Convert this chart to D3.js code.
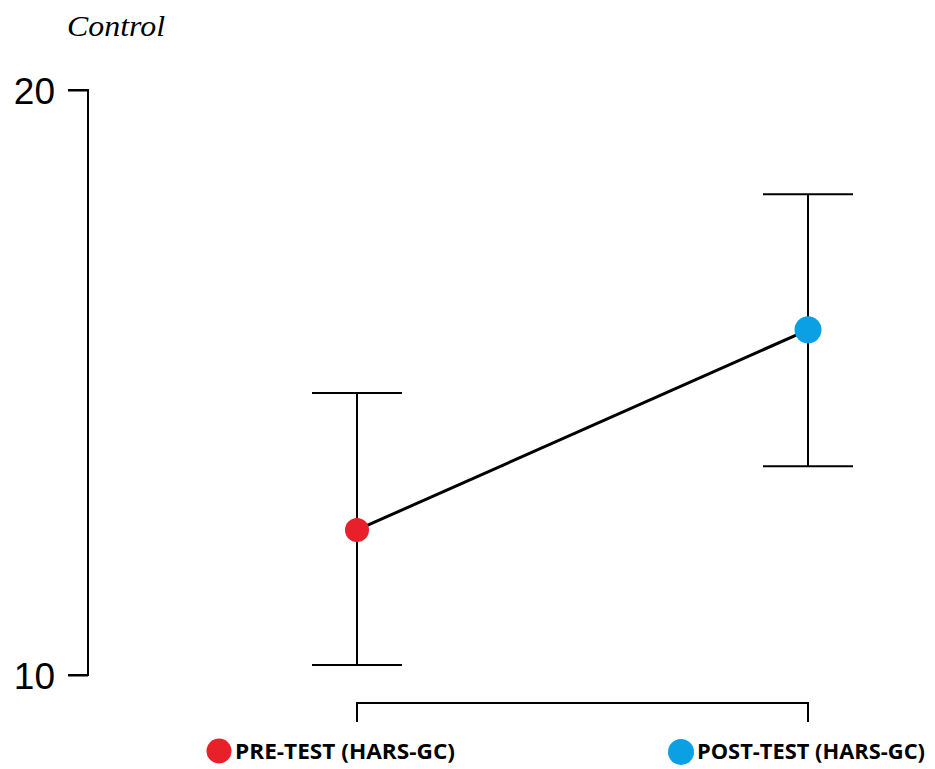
<!DOCTYPE html>
<html><head><meta charset="utf-8">
<script src="https://cdn.jsdelivr.net/npm/d3@7"></script>
<style>body{margin:0;background:#fff}
.ttl{font-family:"Liberation Serif","DejaVu Serif","Times New Roman",serif;font-style:italic;}
</style>
</head><body>
<script>
const categories = ["PRE-TEST (HARS-GC)", "POST-TEST (HARS-GC)"];
const means = [12.48, 15.90];
const lower = [10.17, 13.57];
const upper = [14.82, 18.22];
const colors = ["#e8202a", "#0aa0e3"];
const yTicks = [10, 20];
const title = "Control";

const W = 935, H = 769;
const svg = d3.select("body").append("svg").attr("width", W).attr("height", H);

const y = d3.scaleLinear().domain([10, 20]).range([675, 90]);
const x = d3.scalePoint().domain(categories).range([357, 808]);

// title
svg.append("text").attr("class", "ttl").attr("x", 67).attr("y", 36)
  .style("font-size", "29px").attr("textLength", 98).attr("lengthAdjust", "spacingAndGlyphs").text(title);

// y axis
const yAxis = d3.axisLeft(y).tickValues(yTicks).tickSize(20).tickPadding(13).tickFormat(d3.format("d"));
const ga = svg.append("g").attr("transform", "translate(88,0)").call(yAxis);
ga.select(".domain").attr("stroke", "#000").attr("stroke-width", 2).attr("d", `M-20,${y(20)}H0V${y(10)}H-20`);
ga.selectAll(".tick line").attr("stroke-width", 2);
ga.selectAll(".tick text").attr("font-family", "'Liberation Sans', Arial, sans-serif").attr("font-size", 37)
  .attr("fill", "#000").attr("dy", "0.36em");

// x axis (bracket)
const xAxis = d3.axisBottom(x).tickSize(-19).tickSizeOuter(0).tickFormat("");
const gx = svg.append("g").attr("transform", "translate(0,722)").call(xAxis);
gx.select(".domain").attr("stroke", "#000").attr("stroke-width", 2)
  .attr("d", `M${x(categories[0])},0V-19H${x(categories[1])}V0`);
gx.selectAll(".tick line").remove();

// error bars
const eb = svg.append("g").attr("stroke", "#000").attr("stroke-width", 2);
categories.forEach((c, i) => {
  const cx = x(c);
  eb.append("line").attr("x1", cx).attr("x2", cx).attr("y1", y(upper[i])).attr("y2", y(lower[i]));
  eb.append("line").attr("x1", cx - 45).attr("x2", cx + 45).attr("y1", y(upper[i])).attr("y2", y(upper[i]));
  eb.append("line").attr("x1", cx - 45).attr("x2", cx + 45).attr("y1", y(lower[i])).attr("y2", y(lower[i]));
});

// connecting line
svg.append("path")
  .attr("d", d3.line().x((d, i) => x(categories[i])).y(d => y(d))(means))
  .attr("fill", "none").attr("stroke", "#000").attr("stroke-width", 3);

// points
svg.selectAll("circle.pt").data(means).join("circle").attr("class", "pt")
  .attr("cx", (d, i) => x(categories[i])).attr("cy", d => y(d))
  .attr("r", (d, i) => i === 0 ? 12 : 13.5).attr("fill", (d, i) => colors[i]);

// category labels with markers
const labelPos = [{mx: 219, my: 751, tx: 235, ty: 759, r: 12.5}, {mx: 681, my: 752, tx: 697, ty: 759, r: 13}];
categories.forEach((c, i) => {
  const p = labelPos[i];
  svg.append("circle").attr("cx", p.mx).attr("cy", p.my).attr("r", p.r).attr("fill", colors[i]);
  svg.append("text").attr("x", p.tx).attr("y", p.ty)
    .attr("font-family", "'Open Sans', sans-serif").attr("font-weight", "bold").attr("font-size", 22)
    .attr("textLength", i === 0 ? 220 : 228).attr("lengthAdjust", "spacingAndGlyphs")
    .text(c);
});
</script>
</body></html>
